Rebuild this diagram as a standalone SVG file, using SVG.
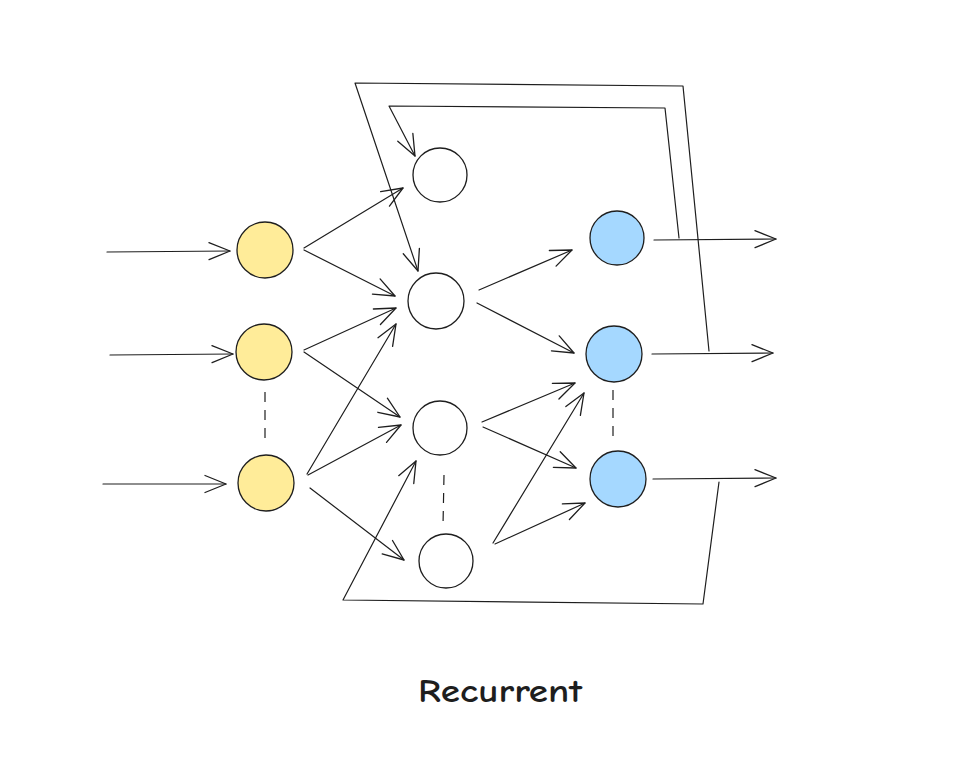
<svg xmlns="http://www.w3.org/2000/svg" width="976" height="768" viewBox="0 0 976 768">
<style>
.n{stroke:#1e1e1e;stroke-width:1.3}
.in{fill:#ffec99}
.hid{fill:#ffffff}
.out{fill:#a5d8ff}
.c{fill:none;stroke:#1e1e1e;stroke-width:1.2;stroke-linecap:round;stroke-linejoin:round}
.d{fill:none;stroke:#1e1e1e;stroke-width:1.2;stroke-dasharray:10 8}
.t{font-family:"Comic Neue","Liberation Sans",sans-serif;font-size:32px;font-weight:700;fill:#1e1e1e;text-anchor:middle}
</style>
<defs>
<marker id="ah" markerUnits="userSpaceOnUse" markerWidth="30" markerHeight="24" viewBox="-25 -12 30 24" refX="0" refY="0" orient="auto">
<path d="M-21,-8.5 L0,0 L-21,8.5" fill="none" stroke="#1e1e1e" stroke-width="1.3" stroke-linecap="round" stroke-linejoin="round"/>
</marker>
</defs>
<rect width="976" height="768" fill="#ffffff"/>
<g id="connectors">
<path class="c" d="M107,252 L230,251" marker-end="url(#ah)"/>
<path class="c" d="M110,355 L233,354" marker-end="url(#ah)"/>
<path class="c" d="M103,484 L226,484" marker-end="url(#ah)"/>
<path class="c" d="M304,248 L403,188" marker-end="url(#ah)"/>
<path class="c" d="M304,250 L395,296" marker-end="url(#ah)"/>
<path class="c" d="M304,350 L396,308" marker-end="url(#ah)"/>
<path class="c" d="M304,352 L400,417" marker-end="url(#ah)"/>
<path class="c" d="M307,474 L396,324" marker-end="url(#ah)"/>
<path class="c" d="M308,475 L401,425" marker-end="url(#ah)"/>
<path class="c" d="M310,488 L404,560" marker-end="url(#ah)"/>
<path class="c" d="M479,290 L572,250" marker-end="url(#ah)"/>
<path class="c" d="M477,303 L574,353" marker-end="url(#ah)"/>
<path class="c" d="M482,422 L575,383" marker-end="url(#ah)"/>
<path class="c" d="M483,427 L576,468" marker-end="url(#ah)"/>
<path class="c" d="M493,543 L584,393" marker-end="url(#ah)"/>
<path class="c" d="M495,544 L585,503" marker-end="url(#ah)"/>
<path class="c" d="M654,240 L776,239" marker-end="url(#ah)"/>
<path class="c" d="M652,354 L773,353" marker-end="url(#ah)"/>
<path class="c" d="M653,479 L776,478" marker-end="url(#ah)"/>
<path class="c" d="M679,238 L665,108 L389,106 L415,156" marker-end="url(#ah)"/>
<path class="c" d="M709,351 L683,86 L355,83 L418,271" marker-end="url(#ah)"/>
<path class="c" d="M719,482 L703,604 L343,600 L416,461" marker-end="url(#ah)"/>
<path class="d" d="M265,392 L265,443"/>
<path class="d" d="M444,475 L443,526"/>
<path class="d" d="M613,390 L613,442"/>
</g>
<g id="input1"><circle class="n in" cx="265" cy="250" r="28"/></g>
<g id="input2"><circle class="n in" cx="264" cy="352" r="28"/></g>
<g id="input3"><circle class="n in" cx="266" cy="483" r="28"/></g>
<g id="hidden1"><circle class="n hid" cx="440" cy="175" r="27"/></g>
<g id="hidden2"><circle class="n hid" cx="436" cy="301" r="28"/></g>
<g id="hidden3"><circle class="n hid" cx="440" cy="428" r="27"/></g>
<g id="hidden4"><circle class="n hid" cx="446" cy="561" r="27"/></g>
<g id="output1"><circle class="n out" cx="617" cy="238" r="27"/></g>
<g id="output2"><circle class="n out" cx="614" cy="354" r="28"/></g>
<g id="output3"><circle class="n out" cx="618" cy="479" r="28"/></g>
<g id="title"><text class="t" x="500" y="702" textLength="164" lengthAdjust="spacingAndGlyphs">Recurrent</text></g>
</svg>
